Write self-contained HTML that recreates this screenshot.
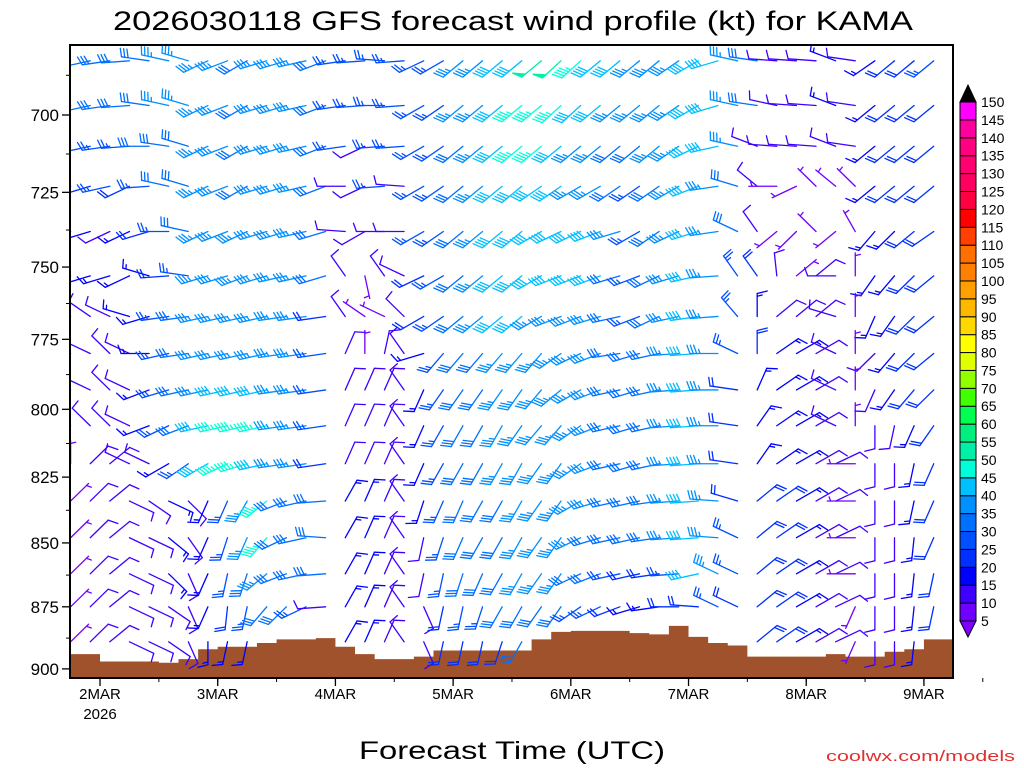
<!DOCTYPE html>
<html><head><meta charset="utf-8"><style>
html,body{margin:0;padding:0;background:#fff;}
svg{display:block;font-family:"Liberation Sans","DejaVu Sans",sans-serif;}
</style></head><body>
<svg id="chart" width="1024" height="768" viewBox="0 0 1024 768" xmlns="http://www.w3.org/2000/svg">
<defs><clipPath id="plotclip"><rect x="70" y="45" width="883" height="633"/></clipPath></defs>
<text x="113" y="30" font-size="27" textLength="800" lengthAdjust="spacingAndGlyphs" fill="#000">2026030118 GFS forecast wind profile (kt) for KAMA</text>
<g id="terrain"></g>
<g id="barbs" clip-path="url(#plotclip)"></g>
<rect x="70" y="45" width="883" height="633" fill="none" stroke="#000" stroke-width="2"/>
<g id="yaxis"></g>
<g id="xaxis"></g>
<g id="cbar"></g>
<text x="512" y="759" font-size="25" text-anchor="middle" textLength="306" lengthAdjust="spacingAndGlyphs" fill="#000">Forecast Time (UTC)</text>
<text x="1015" y="761" font-size="15" text-anchor="end" textLength="189" lengthAdjust="spacingAndGlyphs" fill="#e03030">coolwx.com/models</text>
</svg>
<script>
const levels=[683,697,710,723,738,753,767,780,793,806,820,834,848,862,875,889];
const yTickLabels=[700,725,750,775,800,825,850,875,900];
const xTickLabels=["2MAR","3MAR","4MAR","5MAR","6MAR","7MAR","8MAR","9MAR"];
const xTickDays=[1,2,3,4,5,6,7,8];
const cbarValues=[5,10,15,20,25,30,35,40,45,50,55,60,65,70,75,80,85,90,95,100,105,110,115,120,125,130,135,140,145,150];
const cbarColors=["#7000ff","#4000ff","#0000ff","#0030ff","#0050ff","#0070ff","#0090ff","#00c0ff","#00ffd8","#00f0a8","#00f080","#00ff50","#40ff00","#90ff00","#e0ff00","#ffff00","#ffd800","#ffb800","#ffa000","#ff8000","#ff7000","#ff4000","#ff0000","#ff0040","#ff0060","#ff0070","#ff0080","#ff00a0","#ff00ff"];
const psfc=[894,894,897,897,897,897.5,896,892,891,891,889.5,888,888,887.5,891,894,896,896,895,892.5,892.5,892.5,892.5,892.5,888,885,884.6,884.6,884.6,885.5,886,882.6,887,889.5,890.5,895,895,895,895,894,895,895,893,892,888,888];
const direction=[
[255,255,260,265,280,285,290,240,245,235,250,250,255,245,260,265,275,265,240,235,225,225,225,225,225,222,222,225,225,225,225,230,235,250,285,280,275,275,275,295,280,230,225,225,225,225],
[255,255,260,265,280,285,290,240,245,235,250,250,255,245,260,265,270,265,235,230,225,225,225,225,225,222,222,225,225,225,225,230,235,250,285,280,285,275,275,295,280,225,225,225,225,225],
[255,255,260,265,270,280,290,240,245,235,250,250,255,245,260,240,265,265,235,230,225,225,225,225,225,225,225,225,225,225,225,230,240,255,285,295,275,275,275,295,280,225,225,225,225,225],
[250,250,255,240,265,285,290,240,245,235,250,250,255,245,270,240,265,275,235,230,225,225,225,225,230,230,235,235,230,230,230,235,245,260,290,315,270,240,320,315,320,225,225,225,225,225],
[250,250,240,240,250,270,285,240,245,240,250,250,255,250,275,235,270,270,235,230,225,225,225,225,235,240,240,245,250,235,230,240,250,260,300,330,225,220,320,225,335,215,220,225,230,225],
[300,250,250,240,290,265,280,250,250,245,250,255,255,250,330,170,330,300,240,235,225,225,225,225,235,245,245,245,250,245,240,250,255,265,330,330,355,45,45,270,0,210,215,220,225,225],
[300,310,300,290,250,260,260,255,255,255,255,260,260,260,330,310,300,320,235,230,225,225,225,225,235,245,245,250,255,245,240,255,260,265,325,0,45,45,45,290,0,200,210,220,225,225],
[300,300,320,300,270,255,260,255,255,255,255,260,260,260,20,0,10,330,250,215,215,215,215,215,215,230,240,245,260,250,255,265,265,270,300,0,50,55,55,300,0,220,215,220,225,225],
[250,300,320,300,245,250,255,255,255,255,255,260,260,260,20,20,20,330,200,210,210,210,210,210,215,225,235,245,255,250,255,265,265,270,280,20,50,55,55,300,0,200,210,215,220,225],
[300,320,320,300,245,240,245,255,255,255,255,260,260,260,20,20,20,330,200,205,205,205,205,210,215,215,230,245,255,250,255,265,265,270,280,30,50,55,55,300,0,180,190,200,210,220],
[0,40,45,300,300,235,230,235,240,250,255,260,260,260,20,20,20,330,200,205,205,205,205,205,210,210,230,245,255,250,255,265,265,270,280,30,50,55,55,60,270,180,180,190,200,220],
[40,40,45,120,130,120,140,200,200,205,225,245,255,265,25,20,20,330,195,200,200,205,205,205,210,210,235,250,255,255,260,265,265,275,290,45,50,55,55,60,270,180,180,190,200,210],
[40,40,45,120,120,135,150,200,195,200,215,240,255,275,25,20,20,330,190,195,200,205,205,205,210,210,240,250,255,255,260,265,265,275,300,45,50,55,55,60,270,180,180,185,200,210],
[40,40,45,120,120,140,160,200,190,195,225,245,255,265,25,20,20,330,190,190,195,200,205,205,210,210,240,245,255,255,260,265,255,300,300,45,50,55,55,60,270,180,180,185,190,200],
[40,40,45,120,120,130,160,200,185,190,215,220,240,265,25,20,20,330,160,190,190,195,205,205,210,210,230,240,245,250,260,270,275,300,300,45,50,55,55,60,200,180,180,185,190,200],
[40,40,45,120,120,130,160,180,190,190,200,230,250,265,25,20,20,330,160,190,190,190,195,205,210,210,230,240,245,250,260,270,275,300,300,45,50,55,55,60,200,180,180,185,190,200]
];
const speed=[
[30,30,30,30,30,35,35,35,35,30,35,35,35,30,25,25,25,25,25,25,35,35,40,40,50,50,45,40,40,35,35,35,40,40,35,30,10,10,10,15,10,15,20,20,25,25],
[30,30,30,30,30,35,35,35,35,30,35,35,35,30,25,25,25,25,25,25,35,35,40,45,45,45,40,40,35,35,35,35,40,40,35,30,10,10,10,15,10,15,20,20,20,25],
[25,25,25,25,30,30,30,35,35,30,35,35,35,30,25,10,25,25,25,25,30,35,40,45,45,40,35,35,30,30,35,35,40,40,35,10,10,10,10,10,10,15,20,20,20,25],
[20,20,25,20,25,30,30,35,35,30,35,35,35,30,10,10,25,10,25,25,30,35,40,40,40,40,35,35,30,25,30,35,40,35,30,10,5,5,5,5,5,15,20,20,20,25],
[15,15,10,15,20,25,30,35,35,35,35,35,35,30,10,10,10,10,25,25,30,35,40,40,40,40,40,40,35,25,30,35,40,35,30,10,5,5,5,5,5,15,15,20,20,20],
[10,15,15,15,15,20,25,35,35,35,35,35,35,30,10,5,10,10,20,25,30,35,40,40,40,40,40,40,30,25,30,35,40,35,25,20,10,5,10,10,5,15,15,20,20,20],
[10,10,10,15,15,25,30,35,35,35,35,35,35,20,10,5,5,10,20,25,30,35,40,40,35,35,35,35,30,25,30,35,40,35,25,15,10,10,10,10,5,15,15,20,20,20],
[10,10,10,10,15,25,30,35,35,35,35,35,35,25,10,5,10,10,15,25,30,30,35,35,35,35,35,35,30,30,30,35,40,35,25,20,15,15,10,10,5,10,15,20,20,20],
[5,10,10,10,15,25,30,35,40,40,40,35,35,25,10,10,10,10,15,25,30,30,35,35,35,35,35,35,30,30,30,35,40,35,20,15,15,15,10,10,5,10,15,20,20,20],
[5,10,10,10,15,25,30,40,45,45,45,35,35,25,10,10,10,10,15,25,30,30,35,35,35,35,35,35,30,30,30,35,40,35,20,15,15,15,10,10,5,10,10,15,20,20],
[5,10,10,10,10,15,25,40,45,45,40,35,35,20,10,10,10,10,15,25,30,30,35,35,35,35,35,35,30,30,30,35,40,35,20,15,15,15,10,10,5,10,10,15,20,20],
[5,10,10,10,10,15,10,15,25,35,45,30,30,30,15,15,10,10,15,25,30,30,30,35,35,35,35,35,30,30,30,35,40,35,20,20,20,15,10,10,5,10,10,15,20,20],
[5,10,10,10,10,15,10,15,25,35,45,30,30,30,15,15,10,10,10,25,30,30,30,35,35,35,35,30,30,30,30,35,40,35,25,20,20,15,10,10,5,10,10,15,20,20],
[5,10,10,10,10,15,10,15,25,30,35,30,30,30,15,15,10,10,10,25,30,30,30,35,35,35,30,30,25,20,20,25,40,35,25,20,20,15,10,10,5,10,10,15,20,20],
[5,10,10,10,10,10,10,15,20,25,30,30,25,10,15,15,10,10,10,20,25,25,30,30,30,30,25,25,20,15,15,20,20,25,20,20,20,15,10,10,5,10,10,15,20,20],
[5,10,10,10,10,10,10,15,15,15,15,15,15,10,15,15,10,10,10,20,20,20,20,30,30,30,25,25,20,15,15,20,20,25,20,20,20,15,10,10,5,10,10,15,20,20]
];

const NS="http://www.w3.org/2000/svg";
const X0=70.6, DAYPX=117.7, STEP_H=4;
function xOfHours(h){return X0+h*DAYPX/24;}
function xOfCol(i){return xOfHours(i*STEP_H);}
function yOfP(p){return 115+2204*Math.log(p/700);}
function mk(tag,attrs,parent){const e=document.createElementNS(NS,tag);for(const k in attrs)e.setAttribute(k,attrs[k]);parent.appendChild(e);return e;}
function colorOf(s){let k=Math.floor(s/5)-1;if(k<0)k=0;if(k>=cbarColors.length)k=cbarColors.length-1;return cbarColors[k];}

// terrain
const tg=document.getElementById('terrain');
let d="M70,678";
for(let i=0;i<psfc.length;i++){
  const xa=Math.max(70,xOfCol(i)-9.8), xb=Math.min(953,xOfCol(i)+9.8), y=yOfP(psfc[i]);
  d+=` L${xa},${y} L${xb},${y}`;
}
d+=" L953,678 Z";
const terr=mk('path',{d:d,fill:'#a0522d'},tg);



// barbs
const bg=document.getElementById('barbs');
const LX=28, LY=23, FL=0.36, TILT=0.3, GAP=0.12;
for(let li=0;li<levels.length;li++){
  const p=levels[li];
  for(let i=0;i<direction[li].length;i++){
    if(p>psfc[i]-2) continue;
    const x=xOfCol(i), y=yOfP(p);
    if(x<70||x>953) continue;
    const dir=direction[li][i]*Math.PI/180, s=speed[li][i];
    const sx=Math.sin(dir), sy=-Math.cos(dir);
    const px=-sy, py=sx;
    const fx=(px+TILT*sx)*FL, fy=(py+TILT*sy)*FL;
    const P=(u,v)=>[x+u*LX, y+v*LY];
    const col=colorOf(s);
    const g=mk('g',{stroke:col,fill:col,'stroke-width':1.3,'stroke-linecap':'round'},bg);
    
    
    const e=P(sx,sy);
    mk('line',{x1:x,y1:y,x2:e[0],y2:e[1]},g);
    let rem=Math.round(s/5)*5, pos=0;
    while(rem>=50){
      const a=P(sx*(1-pos),sy*(1-pos)), b=P(sx*(1-pos-0.18),sy*(1-pos-0.18)), c=P(sx*(1-pos)+fx,sy*(1-pos)+fy);
      mk('polygon',{points:`${a[0]},${a[1]} ${c[0]},${c[1]} ${b[0]},${b[1]}`},g);
      pos+=0.24; rem-=50;
    }
    while(rem>=10){
      const a=P(sx*(1-pos),sy*(1-pos)), c=P(sx*(1-pos)+fx,sy*(1-pos)+fy);
      mk('line',{x1:a[0],y1:a[1],x2:c[0],y2:c[1]},g);
      pos+=GAP; rem-=10;
    }
    if(rem>=5){
      if(pos===0) pos=GAP;
      const a=P(sx*(1-pos),sy*(1-pos)), c=P(sx*(1-pos)+fx/2,sy*(1-pos)+fy/2);
      mk('line',{x1:a[0],y1:a[1],x2:c[0],y2:c[1]},g);
    }
  }
}

// y axis
const ya=document.getElementById('yaxis');
for(const v of yTickLabels){
  const y=yOfP(v);
  const tk=mk('line',{x1:62,y1:y,x2:70,y2:y,stroke:'#000','stroke-width':1.3},ya);
  
  
  const t=mk('text',{x:59,y:y+6,'font-size':17,'text-anchor':'end',fill:'#000'},ya);
  t.textContent=v;
  
  
}
for(let v=687.5;v<900;v+=25){
  const y=yOfP(v);
  const tk=mk('line',{x1:66,y1:y,x2:70,y2:y,stroke:'#000','stroke-width':1},ya);
  
  
}
// x axis
const xa=document.getElementById('xaxis');
for(let k=0;k<xTickLabels.length;k++){
  const x=xOfHours(6+(xTickDays[k]-1)*24);
  const tk=mk('line',{x1:x,y1:678,x2:x,y2:686,stroke:'#000','stroke-width':1.3},xa);
  
  
  const t=mk('text',{x:x,y:699,'font-size':15,'text-anchor':'middle',fill:'#000'},xa);
  t.textContent=xTickLabels[k];
  
  
}
for(let h=18;h<207;h+=12){
  const x=xOfHours(h);
  const tk=mk('line',{x1:x,y1:678,x2:x,y2:682,stroke:'#000','stroke-width':1},xa);
  
  
}
const yr=mk('text',{x:xOfHours(6),y:719,'font-size':15,'text-anchor':'middle',fill:'#000'},xa);
yr.textContent="2026";



// colorbar
const cb=document.getElementById('cbar');
const CB_TOP=102, CB_BOT=621, n=cbarColors.length, bh=(CB_BOT-CB_TOP)/n;
for(let k=0;k<n;k++){
  const y=CB_BOT-(k+1)*bh;
  const r=mk('rect',{x:960,y:y,width:16,height:bh,fill:cbarColors[k],stroke:'#000','stroke-width':1},cb);
  
  
}
const tri1=mk('polygon',{points:`960,${CB_TOP} 976,${CB_TOP} 968,85`,fill:'#000',stroke:'#000'},cb);


const tri2=mk('polygon',{points:`960,${CB_BOT} 976,${CB_BOT} 968,637`,fill:'#8000ff',stroke:'#000'},cb);


for(let k=0;k<cbarValues.length;k++){
  const y=CB_BOT-k*bh;
  const t=mk('text',{x:981,y:y+5,'font-size':14,fill:'#000'},cb);
  t.textContent=cbarValues[k];
  
  
}
</script>
</body></html>
